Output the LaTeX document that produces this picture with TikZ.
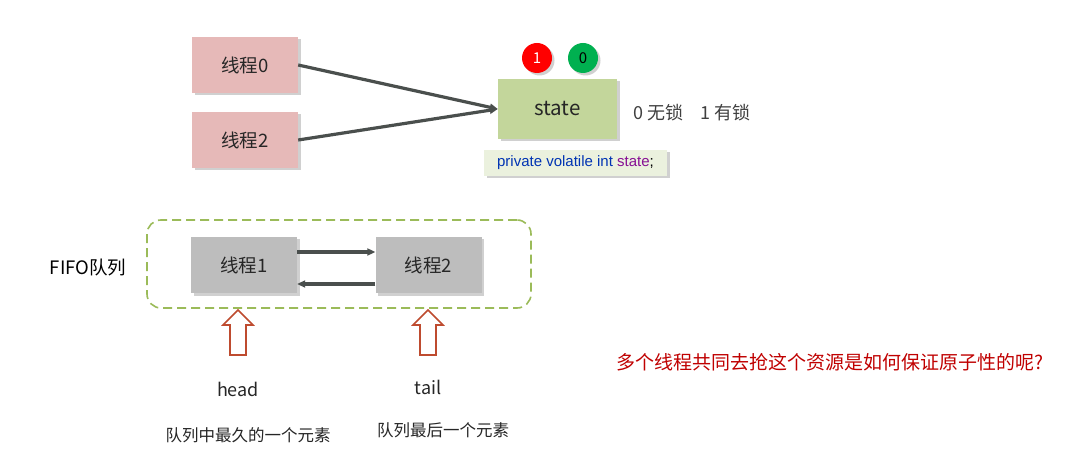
\documentclass[tikz,border=0pt]{standalone}
\usepackage{fontspec}
\setmainfont{Noto Sans CJK SC}
\newfontfamily\codefont{Liberation Sans}
\usetikzlibrary{shadows,arrows.meta}
\definecolor{pinkbox}{HTML}{E6B9B8}
\definecolor{statebox}{HTML}{C3D69B}
\definecolor{graybox}{HTML}{BDBDBD}
\definecolor{codebox}{HTML}{EBF1DE}
\definecolor{redc}{HTML}{FF0000}
\definecolor{greenc}{HTML}{00B050}
\definecolor{dashgreen}{HTML}{9BBB59}
\definecolor{arrowgray}{HTML}{4A4F4D}
\definecolor{hollowred}{HTML}{BE4B2F}
\definecolor{qred}{HTML}{C00000}
\definecolor{codeblue}{HTML}{0033B3}
\definecolor{codepurple}{HTML}{871094}
\definecolor{txt}{HTML}{262626}
\tikzset{
  shad/.style={drop shadow={shadow xshift=2.5pt,shadow yshift=-2.5pt,opacity=0.3,fill=black!60}},
  thbox/.style={shad,minimum width=106pt,minimum height=56pt,inner sep=0pt,font=\fontsize{18.5}{20}\selectfont,text=txt},
  conn/.style={draw=arrowgray,line width=3.2pt,-{Triangle[length=8pt,width=7pt]}},
  dot/.style={circle,minimum size=30pt,inner sep=0pt,shad,font=\fontsize{15}{16}\selectfont},
  hollow/.style={draw=hollowred,line width=1.6pt,fill=white,line join=miter},
  lbl/.style={inner sep=0pt,text=txt}
}
\begin{document}
\begin{tikzpicture}[x=1pt,y=-1pt]
\useasboundingbox[fill=white] (0,0) rectangle (1081,454);
% top
\node[thbox,fill=pinkbox] (t0) at (245,65) {线程0};
\node[thbox,fill=pinkbox] (t2) at (245,140) {线程2};
\node[shad,fill=statebox,minimum width=119pt,minimum height=60pt,inner sep=0pt,font=\fontsize{20.5}{22}\selectfont,text=txt] (st) at (557.5,109) {state};
\node[dot,fill=redc,text=white] (c1) at (537,58) {1};
\node[dot,fill=greenc,text=black] (c0) at (583,58) {0};
\node[lbl,anchor=west,font=\fontsize{18}{19}\selectfont,text=black!75] (lk) at (633,113) {0 无锁\hspace{17pt}1 有锁};
\node[shad,fill=codebox,minimum width=183pt,minimum height=26pt,inner sep=0pt,font=\codefont\fontsize{15}{16}\selectfont] (code) at (575.5,163) {\textcolor{codeblue}{private volatile int} \textcolor{codepurple}{state};};
\draw[conn] (t0.east) -- (st.west);
\draw[conn] (t2.east) -- (st.west);
% queue
\node[draw=dashgreen,dashed,dash pattern=on 9pt off 5pt,line width=1.6pt,rounded corners=14pt,minimum width=384pt,minimum height=88pt,inner sep=0pt] (q) at (339,264) {};
\node[lbl,font=\fontsize{18.5}{20}\selectfont,text=black] (fifo) at (88,268) {FIFO队列};
\node[thbox,fill=graybox] (q1) at (244,265) {线程1};
\node[thbox,fill=graybox] (q2) at (428.5,265) {线程2};
\draw[conn] (q1.east |- 0,252) coordinate (a1) -- (q2.west |- 0,252) coordinate (a2);
\draw[conn] (q2.west |- 0,284) coordinate (b1) -- (q1.east |- 0,284) coordinate (b2);
% hollow arrows
\draw[hollow] (238,310) -- (253,325) -- (246,325) -- (246,355) -- (230,355) -- (230,325) -- (223,325) -- cycle;
\draw[hollow] (428,310) -- (443,325) -- (436,325) -- (436,355) -- (420,355) -- (420,325) -- (413,325) -- cycle;
\node[lbl,font=\fontsize{18}{20}\selectfont] (hd) at (238,389) {head};
\node[lbl,font=\fontsize{18}{20}\selectfont] (tl) at (428,387) {tail};
\node[lbl,font=\fontsize{16.5}{18}\selectfont] (hc) at (248,435) {队列中最久的一个元素};
\node[lbl,font=\fontsize{16.5}{18}\selectfont] (tc) at (443,430) {队列最后一个元素};
\node[lbl,font=\fontsize{19}{20}\selectfont,text=qred] (qq) at (830,362) {多个线程共同去抢这个资源是如何保证原子性的呢?};
\end{tikzpicture}
\end{document}
